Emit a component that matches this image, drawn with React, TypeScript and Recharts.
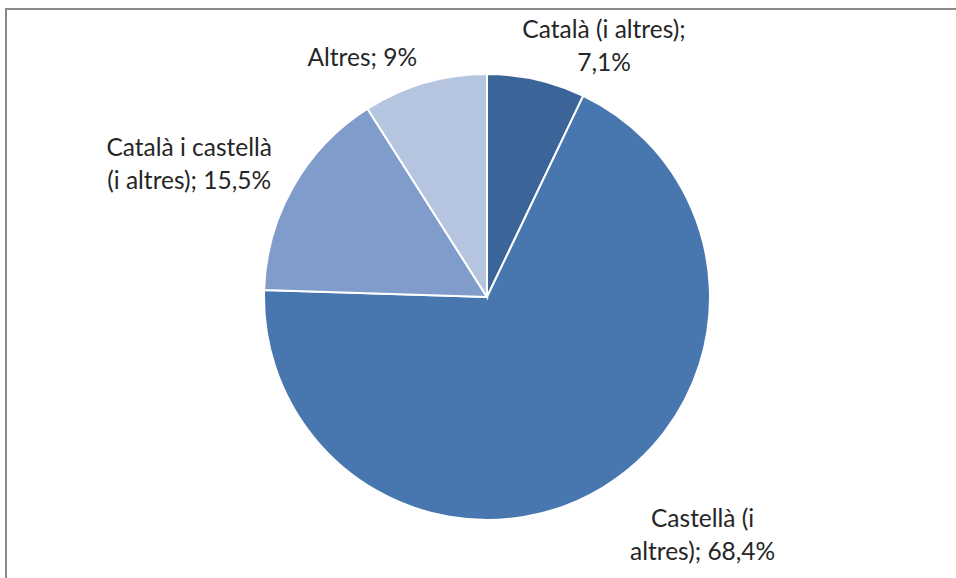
import { PieChart, Pie, Cell } from 'recharts'

// Language use shares (clockwise from 12 o'clock)
const categories = ['Català (i altres)', 'Castellà (i altres)', 'Català i castellà (i altres)', 'Altres']
const values = [7.1, 68.4, 15.5, 9]
const valueLabels = ['7,1%', '68,4%', '15,5%', '9%']
// how each label text wraps (Excel style)
const labelLines = [
  ['Català (i altres);', '7,1%'],
  ['Castellà (i', 'altres); 68,4%'],
  ['Català i castellà', '(i altres); 15,5%'],
  ['Altres; 9%'],
]

const COLORS = ['#3b6598', '#4877b0', '#7f9ccb', '#b5c4df']

// label placement: angle clockwise from top (deg) and distance beyond the rim
const LABEL_LAYOUT = [
  { angle: 25, extra: 54 },
  { angle: 137.8, extra: 98 },
  { angle: 294, extra: 103 },
  { angle: 332.5, extra: 47 },
]

const data = categories.map((name, i) => ({ name, value: values[i], text: valueLabels[i] }))

const FONT = 'Lato, "Open Sans", sans-serif'
const LINE_H = 33
const FONT_SIZE = 24.5

const renderLabel = (props: any) => {
  const { cx, cy, outerRadius, index } = props
  const lay = LABEL_LAYOUT[index]
  const rad = (lay.angle * Math.PI) / 180
  const r = outerRadius + lay.extra
  const x = cx + r * Math.sin(rad)
  const y = cy - r * Math.cos(rad)
  const lines = labelLines[index]
  const y0 = y - ((lines.length - 1) * LINE_H) / 2 + FONT_SIZE * 0.35
  return (
    <text
      key={`lbl-${index}`}
      x={x}
      y={y0}
      textAnchor="middle"
      fill="#262626"
      style={{ fontFamily: FONT, fontSize: FONT_SIZE }}
    >
      {lines.map((ln, i) => (
        <tspan key={i} x={x} y={y0 + i * LINE_H}>{ln}</tspan>
      ))}
    </text>
  )
}

export default function App() {
  return (
    <div style={{ position: 'absolute', left: 0, top: 0, width: 956, height: 578, overflow: 'hidden', background: '#fff' }}>
      <div
        style={{
          position: 'absolute', left: 5, top: 8, width: 1000, height: 700,
          borderTop: '2px solid #8a8a8a', borderLeft: '2px solid #8a8a8a',
        }}
      />
      <div style={{ position: 'absolute', left: 0, top: 0 }}>
        <PieChart width={956} height={578} margin={{ top: 0, right: 0, bottom: 0, left: 0 }}>
          <Pie
            data={data}
            dataKey="value"
            nameKey="name"
            cx={487}
            cy={297}
            outerRadius={223}
            startAngle={90}
            endAngle={-270}
            stroke="#fff"
            strokeWidth={2}
            label={renderLabel}
            labelLine={false}
            isAnimationActive={false}
          >
            {data.map((_, i) => (
              <Cell key={`cell-${i}`} fill={COLORS[i]} />
            ))}
          </Pie>
        </PieChart>
      </div>
    </div>
  )
}
